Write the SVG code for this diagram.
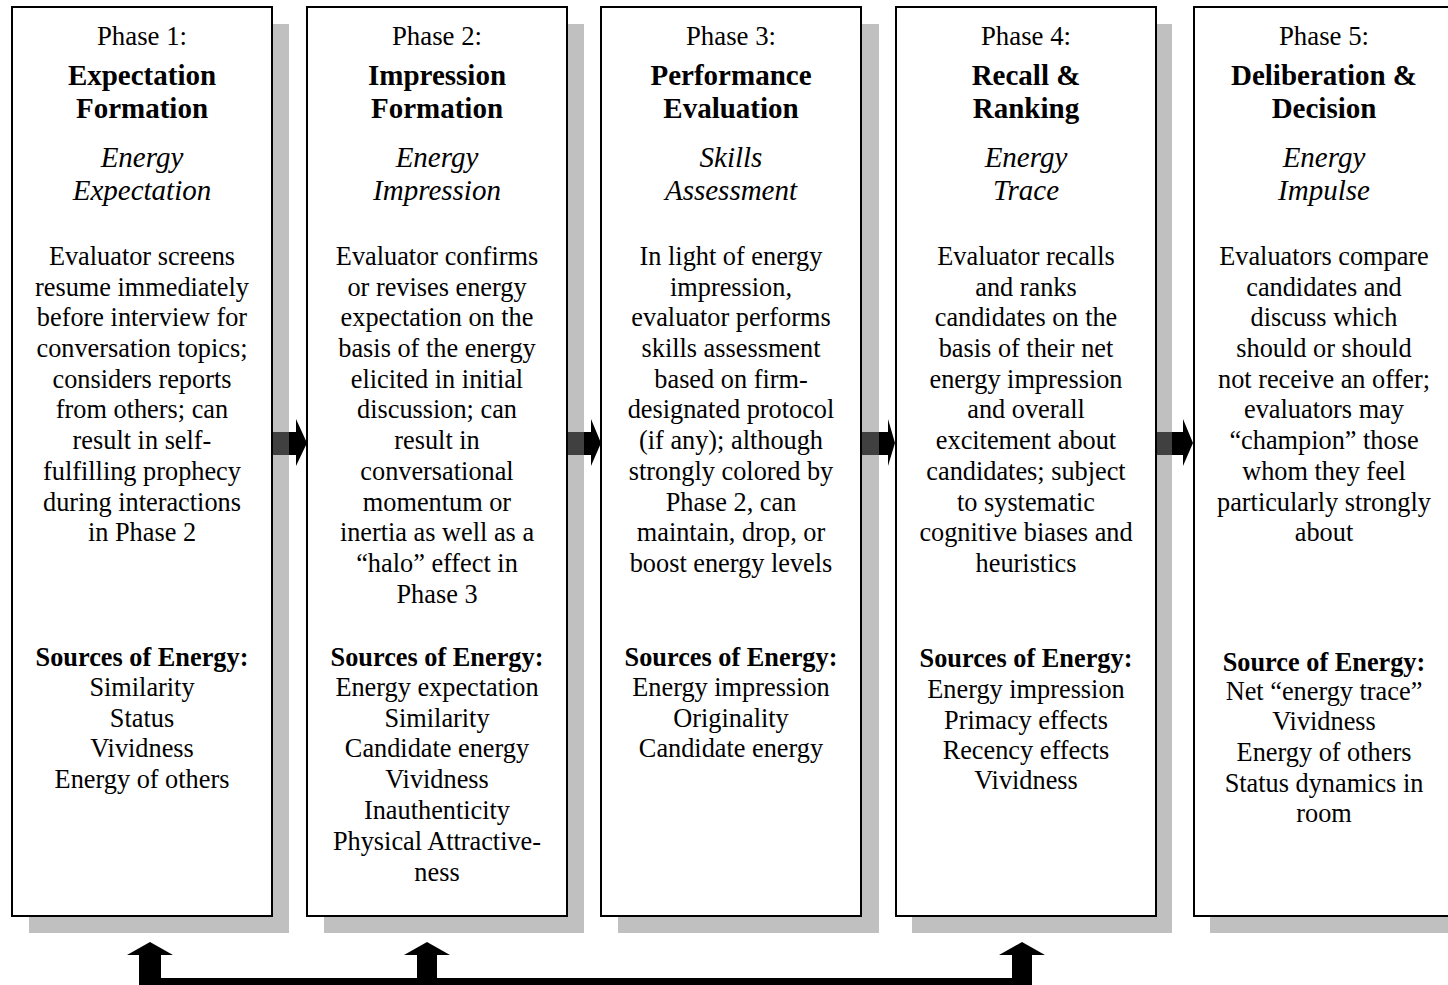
<svg xmlns="http://www.w3.org/2000/svg" width="1448" height="985" viewBox="0 0 1448 985">
<style>
text{font-family:"Liberation Serif","Times New Roman",serif;fill:#000;text-anchor:middle}
.ph{font-size:26.8px}
.ti{font-size:29px;font-weight:bold}
.it{font-size:29px;font-style:italic}
.bd{font-size:26.3px}
.sb{font-size:26.3px;font-weight:bold}
.shadow{fill:#c0c0c0}
.box{fill:#fff;stroke:#000;stroke-width:2}
.ash{fill:#404040}
.arr{fill:#000}
</style>
<rect width="1448" height="985" fill="#fff"/>
<g id="shadows">
<rect class="shadow" x="29" y="24" width="260" height="909"/>
<rect class="shadow" x="324" y="24" width="260" height="909"/>
<rect class="shadow" x="618" y="24" width="261" height="909"/>
<rect class="shadow" x="912" y="24" width="260" height="909"/>
<rect class="shadow" x="1210" y="24" width="260" height="909"/>
</g>
<g id="phase1">
<rect class="box" x="12" y="7" width="260" height="909"/>
<text class="ph" x="142" y="45">Phase 1:</text>
<text class="ti" x="142" y="85">Expectation</text>
<text class="ti" x="142" y="118">Formation</text>
<text class="it" x="142" y="167">Energy</text>
<text class="it" x="142" y="200">Expectation</text>
<text class="bd" x="142" y="265">Evaluator screens</text>
<text class="bd" x="142" y="296">resume immediately</text>
<text class="bd" x="142" y="326">before interview for</text>
<text class="bd" x="142" y="357">conversation topics;</text>
<text class="bd" x="142" y="388">considers reports</text>
<text class="bd" x="142" y="418">from others; can</text>
<text class="bd" x="142" y="449">result in self-</text>
<text class="bd" x="142" y="480">fulfilling prophecy</text>
<text class="bd" x="142" y="511">during interactions</text>
<text class="bd" x="142" y="541">in Phase 2</text>
<text class="sb" x="142" y="666">Sources of Energy:</text>
<text class="bd" x="142" y="696">Similarity</text>
<text class="bd" x="142" y="727">Status</text>
<text class="bd" x="142" y="757">Vividness</text>
<text class="bd" x="142" y="788">Energy of others</text>
</g>
<g id="phase2">
<rect class="box" x="307" y="7" width="260" height="909"/>
<text class="ph" x="437" y="45">Phase 2:</text>
<text class="ti" x="437" y="85">Impression</text>
<text class="ti" x="437" y="118">Formation</text>
<text class="it" x="437" y="167">Energy</text>
<text class="it" x="437" y="200">Impression</text>
<text class="bd" x="437" y="265">Evaluator confirms</text>
<text class="bd" x="437" y="296">or revises energy</text>
<text class="bd" x="437" y="326">expectation on the</text>
<text class="bd" x="437" y="357">basis of the energy</text>
<text class="bd" x="437" y="388">elicited in initial</text>
<text class="bd" x="437" y="418">discussion; can</text>
<text class="bd" x="437" y="449">result in</text>
<text class="bd" x="437" y="480">conversational</text>
<text class="bd" x="437" y="511">momentum or</text>
<text class="bd" x="437" y="541">inertia as well as a</text>
<text class="bd" x="437" y="572">“halo” effect in</text>
<text class="bd" x="437" y="603">Phase 3</text>
<text class="sb" x="437" y="666">Sources of Energy:</text>
<text class="bd" x="437" y="696">Energy expectation</text>
<text class="bd" x="437" y="727">Similarity</text>
<text class="bd" x="437" y="757">Candidate energy</text>
<text class="bd" x="437" y="788">Vividness</text>
<text class="bd" x="437" y="819">Inauthenticity</text>
<text class="bd" x="437" y="850">Physical Attractive-</text>
<text class="bd" x="437" y="881">ness</text>
</g>
<g id="phase3">
<rect class="box" x="601" y="7" width="260" height="909"/>
<text class="ph" x="731" y="45">Phase 3:</text>
<text class="ti" x="731" y="85">Performance</text>
<text class="ti" x="731" y="118">Evaluation</text>
<text class="it" x="731" y="167">Skills</text>
<text class="it" x="731" y="200">Assessment</text>
<text class="bd" x="731" y="265">In light of energy</text>
<text class="bd" x="731" y="296">impression,</text>
<text class="bd" x="731" y="326">evaluator performs</text>
<text class="bd" x="731" y="357">skills assessment</text>
<text class="bd" x="731" y="388">based on firm-</text>
<text class="bd" x="731" y="418">designated protocol</text>
<text class="bd" x="731" y="449">(if any); although</text>
<text class="bd" x="731" y="480">strongly colored by</text>
<text class="bd" x="731" y="511">Phase 2, can</text>
<text class="bd" x="731" y="541">maintain, drop, or</text>
<text class="bd" x="731" y="572">boost energy levels</text>
<text class="sb" x="731" y="666">Sources of Energy:</text>
<text class="bd" x="731" y="696">Energy impression</text>
<text class="bd" x="731" y="727">Originality</text>
<text class="bd" x="731" y="757">Candidate energy</text>
</g>
<g id="phase4">
<rect class="box" x="896" y="7" width="260" height="909"/>
<text class="ph" x="1026" y="45">Phase 4:</text>
<text class="ti" x="1026" y="85">Recall &amp;</text>
<text class="ti" x="1026" y="118">Ranking</text>
<text class="it" x="1026" y="167">Energy</text>
<text class="it" x="1026" y="200">Trace</text>
<text class="bd" x="1026" y="265">Evaluator recalls</text>
<text class="bd" x="1026" y="296">and ranks</text>
<text class="bd" x="1026" y="326">candidates on the</text>
<text class="bd" x="1026" y="357">basis of their net</text>
<text class="bd" x="1026" y="388">energy impression</text>
<text class="bd" x="1026" y="418">and overall</text>
<text class="bd" x="1026" y="449">excitement about</text>
<text class="bd" x="1026" y="480">candidates; subject</text>
<text class="bd" x="1026" y="511">to systematic</text>
<text class="bd" x="1026" y="541">cognitive biases and</text>
<text class="bd" x="1026" y="572">heuristics</text>
<text class="sb" x="1026" y="667">Sources of Energy:</text>
<text class="bd" x="1026" y="698">Energy impression</text>
<text class="bd" x="1026" y="729">Primacy effects</text>
<text class="bd" x="1026" y="759">Recency effects</text>
<text class="bd" x="1026" y="789">Vividness</text>
</g>
<g id="phase5">
<rect class="box" x="1194" y="7" width="260" height="909"/>
<text class="ph" x="1324" y="45">Phase 5:</text>
<text class="ti" x="1324" y="85">Deliberation &amp;</text>
<text class="ti" x="1324" y="118">Decision</text>
<text class="it" x="1324" y="167">Energy</text>
<text class="it" x="1324" y="200">Impulse</text>
<text class="bd" x="1324" y="265">Evaluators compare</text>
<text class="bd" x="1324" y="296">candidates and</text>
<text class="bd" x="1324" y="326">discuss which</text>
<text class="bd" x="1324" y="357">should or should</text>
<text class="bd" x="1324" y="388">not receive an offer;</text>
<text class="bd" x="1324" y="418">evaluators may</text>
<text class="bd" x="1324" y="449">“champion” those</text>
<text class="bd" x="1324" y="480">whom they feel</text>
<text class="bd" x="1324" y="511">particularly strongly</text>
<text class="bd" x="1324" y="541">about</text>
<text class="sb" x="1324" y="671">Source of Energy:</text>
<text class="bd" x="1324" y="700">Net “energy trace”</text>
<text class="bd" x="1324" y="730">Vividness</text>
<text class="bd" x="1324" y="761">Energy of others</text>
<text class="bd" x="1324" y="792">Status dynamics in</text>
<text class="bd" x="1324" y="822">room</text>
</g>
<g id="connectors">
<rect class="ash" x="273" y="432" width="16" height="23"/>
<polygon class="arr" points="289,432 296,432 296,419 307,443 296,466 296,455 289,455"/>
<rect class="ash" x="568" y="432" width="16" height="23"/>
<polygon class="arr" points="584,432 591,432 591,419 601,443 591,466 591,455 584,455"/>
<rect class="ash" x="862" y="432" width="17" height="23"/>
<polygon class="arr" points="879,432 888,432 888,419 895,443 888,466 888,455 879,455"/>
<rect class="ash" x="1157" y="432" width="15" height="23"/>
<polygon class="arr" points="1172,432 1183,432 1183,419 1193,443 1183,466 1183,455 1172,455"/>
<path class="arr" d="M139,990 L139,955 L127,955 L150,942 L173,955 L161,955 L161,978 L417,978 L417,955 L404,955 L427,942 L450,955 L437,955 L437,978 L1012,978 L1012,955 L999,955 L1022,942 L1045,955 L1032,955 L1032,990 Z"/>
</g>
</svg>
